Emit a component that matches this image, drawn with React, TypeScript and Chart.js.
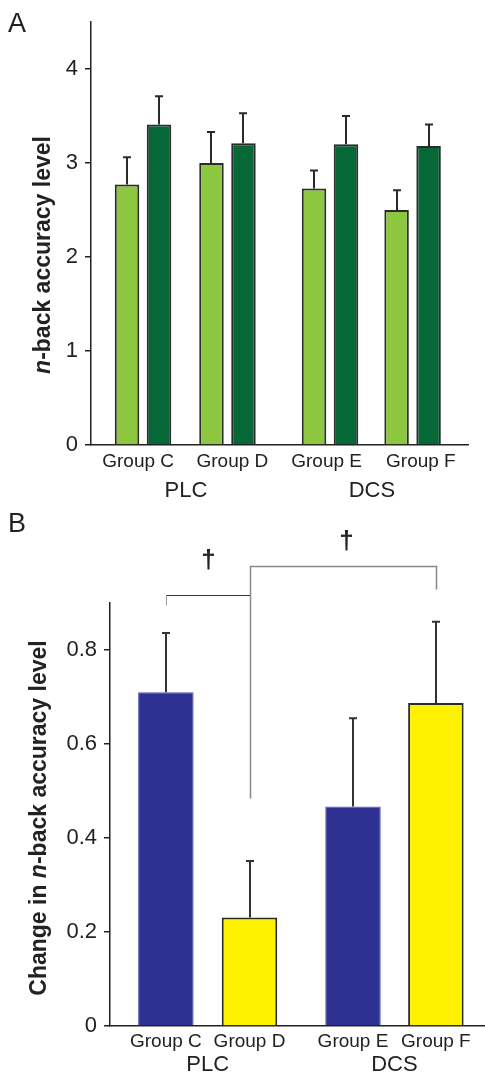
import React, { useEffect, useRef } from 'react';
import { Chart, registerables } from 'chart.js';

Chart.register(...registerables);

const FONT = "'Liberation Sans', Arial, Helvetica, sans-serif";

// ---------- data ----------
const groups = ['Group C', 'Group D', 'Group E', 'Group F'];
const conditions = ['PLC', 'DCS'];

const accuracyTicks = [0, 1, 2, 3, 4];
const session1Accuracy = [2.77, 3.0, 2.73, 2.5];
const session1Error = [0.29, 0.33, 0.19, 0.21];
const session2Accuracy = [3.41, 3.21, 3.2, 3.18];
const session2Error = [0.3, 0.32, 0.3, 0.23];

const changeTicks = [0, 0.2, 0.4, 0.6, 0.8];
const changeTickLabels = ['0', '0.2', '0.4', '0.6', '0.8'];
const changeValues = [0.71, 0.231, 0.467, 0.687];
const changeError = [0.126, 0.12, 0.188, 0.173];
const daggerMark = '\u2020';

// ---------- layout (not data) ----------
const barSlotsA = [13.8, 36.2, 63.4, 85.3];
const labelSlotsA = [12.5, 37.5, 62.5, 87.5];
const conditionSlotsA = [25.2, 74.5];
const barSlotsB = [14.9, 37.2, 64.8, 86.9];

function drawErrorBars(chart: any, dsIndex: number, values: number[], errs: number[], color: string) {
  const ctx = chart.ctx;
  const y = chart.scales.y;
  const meta = chart.getDatasetMeta(dsIndex);
  ctx.save();
  ctx.strokeStyle = color;
  ctx.lineWidth = 2;
  values.forEach((v, i) => {
    const bar = meta.data[i];
    const px = Math.round(bar.x);
    const top = y.getPixelForValue(v);
    const et = y.getPixelForValue(v + errs[i]);
    ctx.beginPath();
    ctx.moveTo(px, top);
    ctx.lineTo(px, et);
    ctx.moveTo(px - 4, et);
    ctx.lineTo(px + 4, et);
    ctx.stroke();
  });
  ctx.restore();
}

function drawYTitle(ctx: CanvasRenderingContext2D, x: number, cy: number, prefix: string, size: number) {
  const italic = `italic bold ${size}px ${FONT}`;
  const bold = `bold ${size}px ${FONT}`;
  const nPart = 'n';
  const rest = '-back accuracy level';
  ctx.save();
  ctx.translate(x, cy);
  ctx.rotate(-Math.PI / 2);
  ctx.fillStyle = '#222';
  ctx.textBaseline = 'alphabetic';
  ctx.textAlign = 'left';
  ctx.font = bold;
  const wPrefix = prefix ? ctx.measureText(prefix).width : 0;
  const wRest = ctx.measureText(rest).width;
  ctx.font = italic;
  const wN = ctx.measureText(nPart).width;
  const total = wPrefix + wN + wRest;
  let cx = -total / 2;
  if (prefix) {
    ctx.font = bold;
    ctx.fillText(prefix, cx, 0);
    cx += wPrefix;
  }
  ctx.font = italic;
  ctx.fillText(nPart, cx, 0);
  cx += wN;
  ctx.font = bold;
  ctx.fillText(rest, cx, 0);
  ctx.restore();
}

const annotA = {
  id: 'annotA',
  afterDatasetsDraw(chart: any) {
    drawErrorBars(chart, 0, session1Accuracy, session1Error, '#2a2a2a');
    drawErrorBars(chart, 1, session2Accuracy, session2Error, '#2a2a2a');
  },
  afterDraw(chart: any) {
    const ctx = chart.ctx;
    const x = chart.scales.x;
    ctx.save();
    ctx.fillStyle = '#222';
    ctx.textAlign = 'center';
    ctx.textBaseline = 'alphabetic';
    ctx.font = `22px ${FONT}`;
    conditions.forEach((c, i) => {
      ctx.fillText(c, x.getPixelForValue(conditionSlotsA[i]), 497);
    });
    ctx.textAlign = 'left';
    ctx.font = `27px ${FONT}`;
    ctx.fillText('A', 8, 32);
    ctx.restore();
    drawYTitle(ctx, 49.5, 255, '', 23);
  },
};

const annotB = {
  id: 'annotB',
  afterDatasetsDraw(chart: any) {
    drawErrorBars(chart, 0, changeValues, changeError, '#333');
  },
  afterDraw(chart: any) {
    const ctx = chart.ctx;
    const x = chart.scales.x;
    const y = chart.scales.y;
    const px = (i: number) => Math.round(x.getPixelForValue(barSlotsB[i])) + 0.5;
    const py = (v: number) => Math.round(y.getPixelForValue(v)) + 0.5;
    ctx.save();
    // inner bracket (Group C - Group D)
    ctx.lineWidth = 1;
    ctx.strokeStyle = '#999';
    ctx.beginPath();
    ctx.moveTo(px(0), py(0.895));
    ctx.lineTo(px(0), py(0.916));
    ctx.stroke();
    ctx.strokeStyle = '#333';
    ctx.beginPath();
    ctx.moveTo(px(0), py(0.916));
    ctx.lineTo(px(1), py(0.916));
    ctx.stroke();
    // outer bracket (Group D - Group F)
    ctx.strokeStyle = '#888';
    ctx.lineWidth = 1.5;
    ctx.beginPath();
    ctx.moveTo(px(1), py(0.486));
    ctx.lineTo(px(1), py(0.978));
    ctx.lineTo(px(3), py(0.978));
    ctx.lineTo(px(3), py(0.929));
    ctx.stroke();
    // daggers
    ctx.fillStyle = '#222';
    ctx.textAlign = 'center';
    ctx.textBaseline = 'middle';
    ctx.font = `bold 26px ${FONT}`;
    ctx.fillText(daggerMark, (px(0) + px(1)) / 2, y.getPixelForValue(0.988) - 1);
    ctx.fillText(daggerMark, (px(1) + px(3)) / 2 + 3, y.getPixelForValue(1.027) - 1);
    // condition labels
    ctx.textBaseline = 'alphabetic';
    ctx.font = `22px ${FONT}`;
    conditions.forEach((c, i) => {
      const cx = (x.getPixelForValue(barSlotsB[i * 2]) + x.getPixelForValue(barSlotsB[i * 2 + 1])) / 2;
      ctx.fillText(c, cx, 566);
    });
    ctx.textAlign = 'left';
    ctx.font = `27px ${FONT}`;
    ctx.fillText('B', 8, 27);
    ctx.restore();
    drawYTitle(ctx, 46, 818 - 505, 'Change in ', 23);
  },
};

function makeY(min: number, max: number, ticks: number[], labels: string[], width: number) {
  return {
    type: 'linear',
    min,
    max,
    afterBuildTicks: (s: any) => {
      s.ticks = ticks.map((v) => ({ value: v }));
    },
    afterFit: (s: any) => {
      s.width = width;
    },
    grid: { display: true, drawOnChartArea: false, drawTicks: true, tickLength: 6, color: '#222', lineWidth: 1.5 },
    border: { display: true, color: '#222', width: 1.5 },
    ticks: {
      font: { family: FONT, size: 22 },
      color: '#222',
      padding: 7,
      callback: (_v: any, i: number) => labels[i],
    },
  };
}

function makeX(slots: number[], height: number, pad: number) {
  return {
    type: 'linear',
    min: 0,
    max: 100,
    offset: false,
    afterBuildTicks: (s: any) => {
      s.ticks = slots.map((v) => ({ value: v }));
    },
    afterFit: (s: any) => {
      s.height = height;
    },
    grid: { display: false, drawTicks: false },
    border: { display: true, color: '#222', width: 1.5 },
    ticks: {
      font: { family: FONT, size: 19 },
      color: '#222',
      padding: pad,
      maxRotation: 0,
      autoSkip: false,
      callback: (_v: any, i: number) => groups[i],
    },
  };
}

export default function App() {
  const refA = useRef<HTMLCanvasElement>(null);
  const refB = useRef<HTMLCanvasElement>(null);

  useEffect(() => {
    const chartA = new Chart(refA.current as HTMLCanvasElement, {
      type: 'bar',
      data: {
        datasets: [
          {
            label: 'Session 1',
            data: session1Accuracy.map((v, i) => ({ x: barSlotsA[i], y: v })),
            backgroundColor: '#8dc63f',
            borderColor: '#2b2b2b',
            borderWidth: 2,
            categoryPercentage: 0.775,
            barPercentage: 0.766,
          },
          {
            label: 'Session 2',
            data: session2Accuracy.map((v, i) => ({ x: barSlotsA[i], y: v })),
            backgroundColor: '#076837',
            borderColor: '#2b2b2b',
            borderWidth: 2,
            categoryPercentage: 0.775,
            barPercentage: 0.766,
          },
        ],
      } as any,
      options: {
        animation: false,
        responsive: false,
        layout: { padding: { top: 22, right: 17, left: 0, bottom: 0 } },
        plugins: { legend: { display: false }, tooltip: { enabled: false } },
        scales: {
          x: makeX(labelSlotsA, 60, 5) as any,
          y: makeY(0, 4.5, accuracyTicks, accuracyTicks.map(String), 91) as any,
        },
      },
      plugins: [annotA],
    });

    const chartB = new Chart(refB.current as HTMLCanvasElement, {
      type: 'bar',
      data: {
        datasets: [
          {
            label: 'Change',
            data: changeValues.map((v, i) => ({ x: barSlotsB[i], y: v })),
            backgroundColor: ['#2e3192', '#fff200', '#2e3192', '#fff200'],
            borderColor: ['#5558b0', '#2b2b2b', '#5558b0', '#2b2b2b'],
            borderWidth: [1, 2, 1, 2],
            categoryPercentage: 1,
            barPercentage: 0.67,
          },
        ],
      } as any,
      options: {
        animation: false,
        responsive: false,
        layout: { padding: { top: 98, right: 0, left: 0, bottom: 0 } },
        plugins: { legend: { display: false }, tooltip: { enabled: false } },
        scales: {
          x: makeX(barSlotsB, 47, 4) as any,
          y: makeY(0, 0.9, changeTicks, changeTickLabels, 110) as any,
        },
      },
      plugins: [annotB],
    });

    return () => {
      chartA.destroy();
      chartB.destroy();
    };
  }, []);

  return (
    <div style={{ position: 'absolute', left: 0, top: 0, width: 485, height: 1073, overflow: 'hidden', background: '#fff' }}>
      <canvas ref={refA} width={485} height={505} style={{ position: 'absolute', left: 0, top: 0, width: 485, height: 505 }} />
      <canvas ref={refB} width={485} height={568} style={{ position: 'absolute', left: 0, top: 505, width: 485, height: 568 }} />
    </div>
  );
}
